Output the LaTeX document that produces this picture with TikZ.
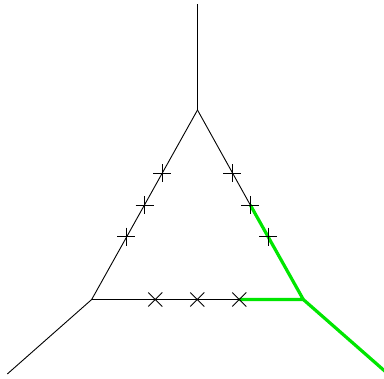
\documentclass[tikz,border=0pt]{standalone}
\begin{document}
\begin{tikzpicture}[x=1pt,y=-1pt,
  edge/.style={black,line width=0.9pt},
  hot/.style={draw=hotgreen,line width=3.2pt},
  plusm/.pic={\draw[black,line width=0.9pt] (-9,0)--(9,0) (0,-9)--(0,9);},
  crossm/.pic={\draw[black,line width=0.9pt] (-7,-7)--(7,7) (-7,7)--(7,-7);}]
\definecolor{hotgreen}{RGB}{0,230,0}
\useasboundingbox (0,0) rectangle (384,379);
\coordinate (T) at (197.5,110);
\coordinate (L) at (91.7,299.5);
\coordinate (R) at (303.3,299.5);
\coordinate (Tend) at (197.5,4);
\coordinate (Lend) at (7.3,374);
\coordinate (Rend) at (387,373);
\coordinate (l1) at (162.3,173.3);
\coordinate (l2) at (144.5,205);
\coordinate (l3) at (126.3,236.7);
\coordinate (r1) at (232.3,173.3);
\coordinate (r2) at (250.3,205);
\coordinate (r3) at (268.3,236.7);
\coordinate (b1) at (155.3,299.5);
\coordinate (b2) at (197.3,299.5);
\coordinate (b3) at (239.3,299.5);
\begin{scope}
\clip (0,0) rectangle (384,379);
\draw[edge] (T) -- (Tend);
\draw[edge] (L) -- (Lend);
\draw[edge] (T) -- (L) -- (b3);
\draw[edge] (T) -- (r2);
\draw[hot,line join=round] (r2) -- (R) -- (b3);
\draw[hot] (R) -- (Rend);
\end{scope}
\foreach \p in {l1,l2,l3,r1,r2,r3} \pic at (\p) {plusm};
\foreach \p in {b1,b2,b3} \pic at (\p) {crossm};
\end{tikzpicture}
\end{document}
